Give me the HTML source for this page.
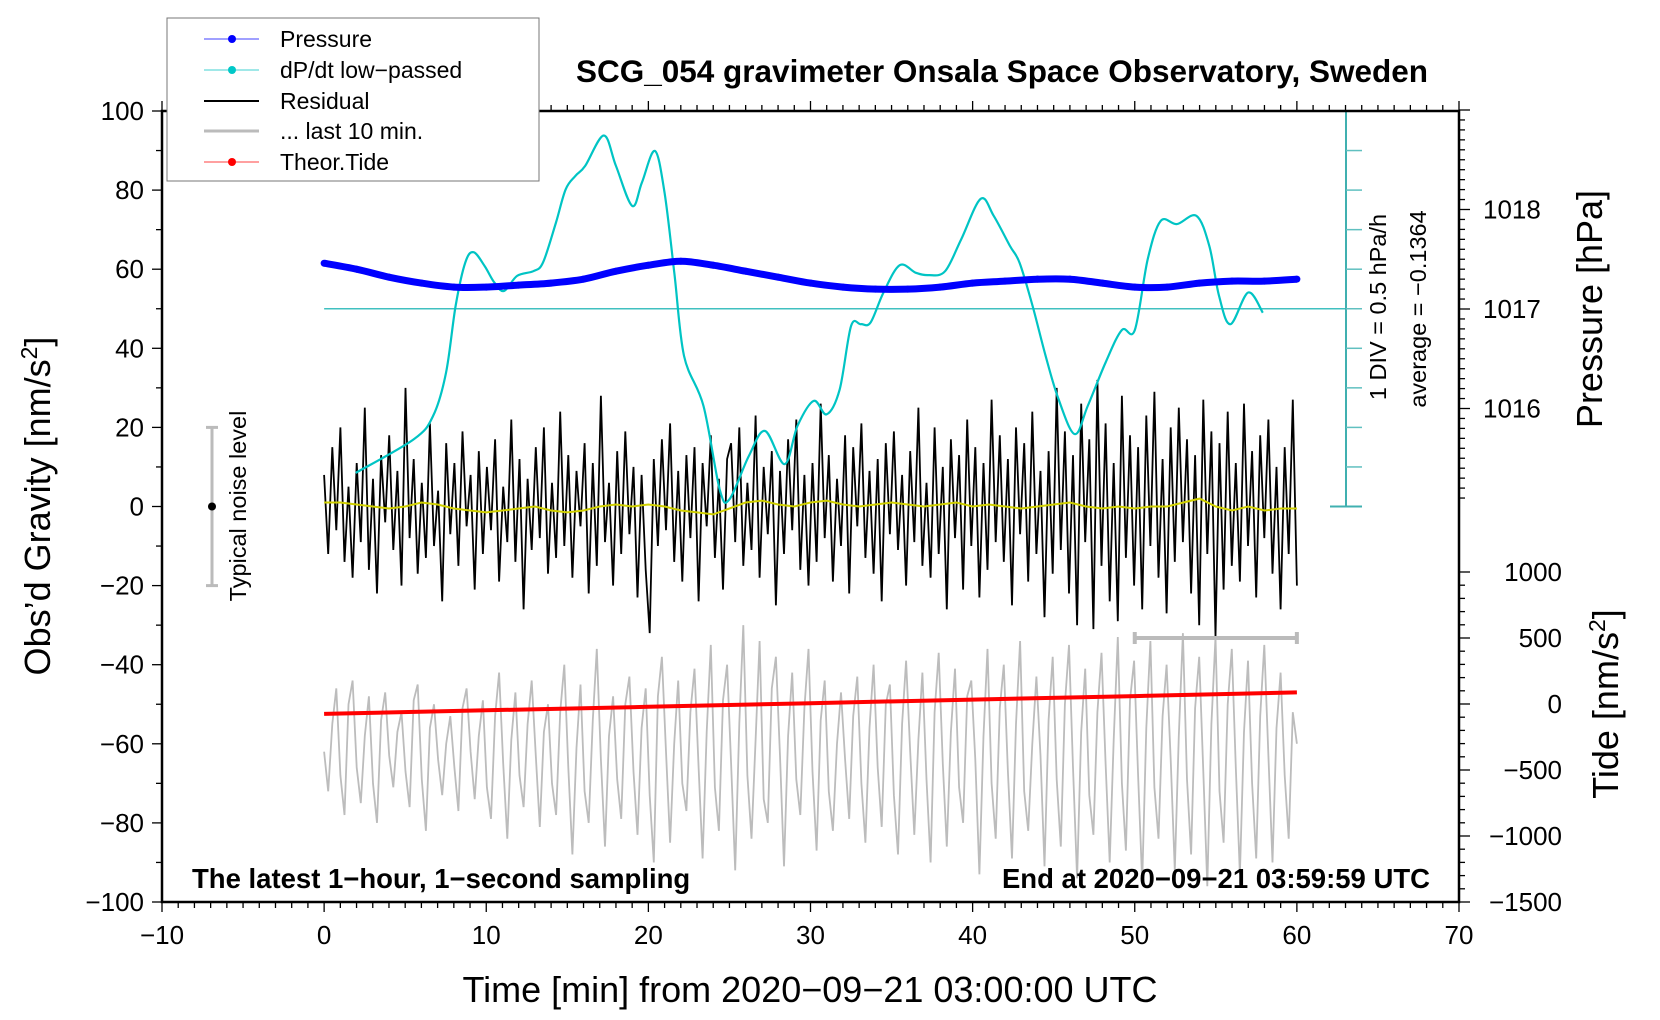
<!DOCTYPE html>
<html><head><meta charset="utf-8"><style>
html,body{margin:0;padding:0;background:#fff;}
svg{display:block;font-family:"Liberation Sans",Arial,sans-serif;}
</style></head><body>
<svg id="chart" width="1660" height="1020" viewBox="0 0 1660 1020" xmlns="http://www.w3.org/2000/svg">
<rect x="0" y="0" width="1660" height="1020" fill="#fff"/>
<g id="marks"></g>
<g id="axes"></g>
<text x="1002" y="82" text-anchor="middle" font-size="31.5" font-weight="bold">SCG_054 gravimeter Onsala Space Observatory, Sweden</text>
<text x="192" y="888" font-size="27.5" font-weight="bold">The latest 1−hour, 1−second sampling</text>
<text x="1430" y="888" text-anchor="end" font-size="27.5" font-weight="bold">End at 2020−09−21 03:59:59 UTC</text>
<text x="810" y="1002" text-anchor="middle" font-size="36">Time [min] from 2020−09−21 03:00:00 UTC</text>
<text transform="translate(50,506) rotate(-90)" text-anchor="middle" font-size="36">Obs’d Gravity [nm/s<tspan baseline-shift="super" font-size="23">2</tspan>]</text>
<text transform="translate(1602,309) rotate(-90)" text-anchor="middle" font-size="36">Pressure [hPa]</text>
<text transform="translate(1618,704) rotate(-90)" text-anchor="middle" font-size="36">Tide [nm/s<tspan baseline-shift="super" font-size="23">2</tspan>]</text>
<text transform="translate(1386,307) rotate(-90)" text-anchor="middle" font-size="23.5">1 DIV = 0.5 hPa/h</text>
<text transform="translate(1426,309) rotate(-90)" text-anchor="middle" font-size="23.5">average = −0.1364</text>
<text transform="translate(246,506) rotate(-90)" text-anchor="middle" font-size="23.5">Typical noise level</text>
<g>
<rect x="167" y="18" width="372" height="163" fill="#fff" stroke="#777" stroke-width="1"/>
<g><line x1="204" y1="39" x2="259" y2="39" stroke="#4040ff" stroke-width="1"/><circle cx="232" cy="39" r="4" fill="#0000ff"/><text x="280" y="47" font-size="23">Pressure</text></g>
<g><line x1="204" y1="70" x2="259" y2="70" stroke="#40d0d0" stroke-width="1"/><circle cx="232" cy="70" r="4" fill="#00c8c8"/><text x="280" y="78" font-size="23">dP/dt low−passed</text></g>
<g><line x1="204" y1="101" x2="259" y2="101" stroke="#000" stroke-width="2"/><text x="280" y="109" font-size="23">Residual</text></g>
<g><line x1="204" y1="131" x2="259" y2="131" stroke="#bbb" stroke-width="3"/><text x="280" y="139" font-size="23">... last 10 min.</text></g>
<g><line x1="204" y1="162" x2="259" y2="162" stroke="#ff4040" stroke-width="1"/><circle cx="232" cy="162" r="4" fill="#ff0000"/><text x="280" y="170" font-size="23">Theor.Tide</text></g>
</g>
</svg>
<script>
// ---- data ----
const pressureTimes = [0,2,4,6,8,10,12,14,16,18,20,22,24,26,28,30,32,34,36,38,40,42,44,46,48,50,52,54,56,58,60];
const pressureHpa = [1017.46,1017.40,1017.32,1017.26,1017.22,1017.22,1017.24,1017.26,1017.30,1017.38,1017.44,1017.48,1017.44,1017.38,1017.32,1017.26,1017.22,1017.20,1017.20,1017.22,1017.26,1017.28,1017.30,1017.30,1017.26,1017.22,1017.22,1017.26,1017.28,1017.28,1017.30];
const dpdtTimes = [1.95,5.53,6.72,7.52,8.11,8.71,9.22,9.9,10.5,11.1,11.9,12.9,13.5,14.3,14.9,15.5,16.1,17.25,18.0,19.0,19.6,20.4,21.0,21.6,22.2,23.4,24.4,25.0,26.2,27.2,28.4,29.2,30.2,31.0,31.8,32.5,33.1,33.7,34.5,35.5,36.5,37.3,38.3,39.3,40.5,41.3,42.3,42.9,43.7,44.5,45.3,46.3,47.1,48.2,49.2,50.0,50.8,51.6,52.6,53.8,54.6,55.2,55.9,57.0,57.9];
const dpdtAnomaly = [-2.075,-1.65,-1.355,-0.81,0.035,0.585,0.715,0.54,0.33,0.225,0.415,0.475,0.585,1.09,1.51,1.68,1.805,2.19,1.805,1.3,1.595,1.995,1.465,0.455,-0.595,-1.23,-2.285,-2.41,-1.86,-1.545,-1.965,-1.48,-1.165,-1.335,-1.02,-0.22,-0.195,-0.175,0.205,0.55,0.455,0.425,0.475,0.88,1.39,1.175,0.795,0.58,0.035,-0.595,-1.145,-1.585,-1.23,-0.68,-0.27,-0.27,0.625,1.11,1.07,1.175,0.795,0.16,-0.195,0.205,-0.05];
const residual = [8,-12,15,-6,20,-14,5,-18,11,-9,25,-16,7,-22,13,-4,18,-11,9,-20,
30,-8,12,-17,6,-13,21,-10,4,-24,16,-7,11,-15,19,-5,8,-21,14,-12,
10,-6,17,-19,5,-9,22,-14,12,-26,7,-11,15,-8,20,-17,6,-13,24,-10,
13,-18,9,-5,16,-22,11,-15,28,-9,6,-20,14,-12,19,-7,10,-23,8,-16,
-32,12,-10,17,-6,21,-14,9,-19,13,-8,15,-24,11,-5,18,-13,7,-21,12,
16,-9,20,-15,6,-11,23,-18,10,-7,14,-25,9,-12,17,-6,22,-16,8,-20,
11,-14,26,-8,13,-19,7,-10,18,-22,15,-5,21,-13,9,-17,12,-24,16,-7,
19,-11,8,-20,14,-9,25,-15,6,-18,20,-12,10,-26,17,-8,13,-21,22,-10,
15,-23,11,-16,27,-9,18,-14,12,-25,20,-7,16,-19,24,-12,9,-28,14,-17,
30,-11,19,-22,13,-30,26,-9,17,-31,32,-15,21,-24,11,-29,28,-13,18,-20,
15,-26,23,-10,29,-18,12,-27,20,-14,25,-9,17,-22,13,-30,27,-12,19,-33,
16,-21,24,-15,11,-19,26,-10,14,-23,18,-8,22,-17,10,-26,15,-12,27,-20];
const last10 = [-62,-72,-55,-46,-68,-78,-50,-44,-66,-75,-58,-48,-70,-80,-54,-47,-63,-71,-57,-52,
-67,-76,-49,-45,-69,-82,-56,-50,-64,-73,-60,-53,-66,-77,-51,-46,-62,-74,-58,-49,
-71,-79,-53,-42,-65,-84,-59,-47,-68,-76,-55,-44,-63,-81,-57,-50,-70,-78,-52,-40,
-66,-88,-61,-45,-72,-80,-54,-36,-64,-86,-58,-48,-69,-79,-50,-43,-67,-83,-56,-46,
-73,-90,-48,-38,-62,-85,-60,-44,-70,-77,-52,-41,-66,-89,-57,-35,-71,-82,-49,-40,
-65,-92,-55,-30,-68,-84,-59,-34,-74,-80,-46,-38,-63,-91,-58,-42,-69,-78,-51,-36,
-67,-87,-54,-44,-72,-82,-60,-47,-64,-79,-53,-43,-70,-85,-56,-40,-66,-81,-50,-45,
-73,-88,-55,-39,-62,-83,-59,-42,-69,-90,-52,-37,-65,-86,-57,-41,-71,-80,-48,-44,
-64,-93,-58,-36,-70,-84,-51,-40,-67,-89,-55,-34,-72,-82,-60,-43,-63,-91,-54,-38,
-69,-86,-50,-35,-66,-94,-57,-41,-73,-83,-52,-37,-65,-90,-59,-33,-70,-87,-49,-39,
-68,-95,-56,-34,-71,-84,-53,-40,-64,-92,-58,-32,-69,-88,-51,-38,-67,-96,-55,-33,
-72,-85,-50,-36,-66,-93,-57,-39,-70,-89,-53,-35,-63,-90,-56,-42,-68,-84,-52,-60];
const smoothed = [1,1,0.5,0,-0.5,0,1,0.5,-0.5,-1,-1.5,-1,-0.5,0,-1,-1.5,-1,0,0.5,0,0.5,0,-1,-1.5,-2,-0.5,1,1.5,0.5,0,1,1.5,0.5,0,0.5,1,0.5,0,0.5,1,0,0.5,0,-0.5,0,0.5,1,0,-0.5,0,-0.5,0,0,1,2,0,-1,0,-1,-0.5,-0.5];
const tideTimes = [0,10,20,30,40,50,60];
const tideValues = [-75,-48,-21,6,33,60,88];
const xTicks = [-10,0,10,20,30,40,50,60,70];
const yTicks = [-100,-80,-60,-40,-20,0,20,40,60,80,100];
const pressureTicks = [1016,1017,1018];
const tideTicks = [-1500,-1000,-500,0,500,1000];
const dpdtAverage = -0.1364;

// ---- axis functions ----
const X0=162, X1=1459, YT=111, YB=902;
const xS = t => X0 + (t+10)/80*(X1-X0);
const yS = v => YB - (v+100)/200*(YB-YT);
const pS = p => 309 - (p-1017)*99.5;
const tS = n => 704 - n*0.132;
const dS = d => yS(50 + d/0.5*10);
const NS='http://www.w3.org/2000/svg';
const marks=document.getElementById('marks'), axes=document.getElementById('axes');
function mk(tag, attrs, parent){const e=document.createElementNS(NS,tag);for(const k in attrs)e.setAttribute(k,attrs[k]);parent.appendChild(e);return e;}
function pts(xs, ys){return xs.map((x,i)=>x.toFixed(1)+','+ys[i].toFixed(1)).join(' ');}
function smoothPath(xs, ys){
  let d='M'+xs[0].toFixed(1)+','+ys[0].toFixed(1);
  for(let i=0;i<xs.length-1;i++){
    const x0=xs[Math.max(i-1,0)], y0=ys[Math.max(i-1,0)];
    const x1=xs[i], y1=ys[i], x2=xs[i+1], y2=ys[i+1];
    const x3=xs[Math.min(i+2,xs.length-1)], y3=ys[Math.min(i+2,xs.length-1)];
    const c1x=x1+(x2-x0)/6, c1y=y1+(y2-y0)/6, c2x=x2-(x3-x1)/6, c2y=y2-(y3-y1)/6;
    d+=' C'+c1x.toFixed(1)+','+c1y.toFixed(1)+' '+c2x.toFixed(1)+','+c2y.toFixed(1)+' '+x2.toFixed(1)+','+y2.toFixed(1);
  }
  return d;
}

// gray last-10
const grayT = last10.map((v,i)=>i*60/(last10.length-1));
let el=mk('polyline',{points:pts(grayT.map(xS),last10.map(yS)),fill:'none',stroke:'#bcbcbc','stroke-width':1.8},marks);


// residual
const resT = residual.map((v,i)=>i*60/(residual.length-1));
el=mk('polyline',{points:pts(resT.map(xS),residual.map(yS)),fill:'none',stroke:'#000','stroke-width':1.8},marks);


// smoothed
const smT = smoothed.map((v,i)=>i*60/(smoothed.length-1));
el=mk('polyline',{points:pts(smT.map(xS),smoothed.map(yS)),fill:'none',stroke:'#d0d000','stroke-width':2},marks);


// dpdt baseline
el=mk('line',{x1:xS(0),x2:1362,y1:dS(0),y2:dS(0),stroke:'#40c0c0','stroke-width':1.5},marks);


// dpdt curve
el=mk('path',{d:smoothPath(dpdtTimes.map(xS),dpdtAnomaly.map(dS)),fill:'none',stroke:'#00c4c4','stroke-width':2.2},marks);


// pressure
el=mk('path',{d:smoothPath(pressureTimes.map(xS),pressureHpa.map(pS)),fill:'none',stroke:'#0000ff','stroke-width':7},marks);


pressureTimes.forEach((t,i)=>{
  const c=mk('circle',{cx:xS(t),cy:pS(pressureHpa[i]),r:3.5,fill:'#0000ff'},marks);
  
  
});
// tide
el=mk('polyline',{points:pts(tideTimes.map(xS),tideValues.map(tS)),fill:'none',stroke:'#ff0000','stroke-width':4},marks);


// noise level bar
const nb=mk('g',{},marks);


mk('line',{x1:212,x2:212,y1:yS(20),y2:yS(-20),stroke:'#bbb','stroke-width':3},nb);
mk('line',{x1:206,x2:218,y1:yS(20),y2:yS(20),stroke:'#bbb','stroke-width':3},nb);
mk('line',{x1:206,x2:218,y1:yS(-20),y2:yS(-20),stroke:'#bbb','stroke-width':3},nb);
mk('circle',{cx:212,cy:yS(0),r:4,fill:'#000'},nb);
// last 10 min range bar
const rb=mk('g',{},marks);


mk('line',{x1:xS(50),x2:xS(60),y1:638,y2:638,stroke:'#bbb','stroke-width':4},rb);
mk('line',{x1:xS(50),x2:xS(50),y1:632,y2:644,stroke:'#bbb','stroke-width':4},rb);
mk('line',{x1:xS(60),x2:xS(60),y1:632,y2:644,stroke:'#bbb','stroke-width':4},rb);
// dpdt scale bar
const sb=mk('g',{},marks);


mk('line',{x1:1346,x2:1346,y1:yS(100),y2:yS(0),stroke:'#40b0b0','stroke-width':2},sb);
mk('line',{x1:1330,x2:1362,y1:yS(100),y2:yS(100),stroke:'#40b0b0','stroke-width':2},sb);
mk('line',{x1:1330,x2:1362,y1:yS(0),y2:yS(0),stroke:'#40b0b0','stroke-width':2},sb);
for(let v=10;v<100;v+=10) mk('line',{x1:1346,x2:1362,y1:yS(v),y2:yS(v),stroke:'#60c0c0','stroke-width':1.5},sb);

// ---- axes ----
mk('rect',{x:X0,y:YT,width:X1-X0,height:YB-YT,fill:'none',stroke:'#000','stroke-width':2.5},axes);
for(let t=-10;t<=70;t++){
  const maj=t%10===0;
  mk('line',{x1:xS(t),x2:xS(t),y1:YB,y2:YB+(maj?10:6),stroke:'#000','stroke-width':1.3},axes);
  mk('line',{x1:xS(t),x2:xS(t),y1:YT,y2:YT-(maj?10:6),stroke:'#000','stroke-width':1.3},axes);
}
xTicks.forEach(t=>{
  const e=mk('text',{x:xS(t),y:YB+42,'text-anchor':'middle','font-size':26},axes);
  e.textContent=String(t).replace('-','−');
  
  
});
for(let v=-100;v<=100;v+=10){
  mk('line',{x1:X0,x2:X0-(v%20===0?10:6),y1:yS(v),y2:yS(v),stroke:'#000','stroke-width':1.3},axes);
}
yTicks.forEach(v=>{
  const e=mk('text',{x:X0-18,y:yS(v)+9,'text-anchor':'end','font-size':26},axes);
  e.textContent=String(v).replace('-','−');
  
  
});
for(let k=0;k<=40;k++){
  const p=1015.0+k*0.1; const y=pS(p);
  if(y<YT-1||y>500) continue;
  const maj=Math.abs(p-Math.round(p))<0.01;
  mk('line',{x1:X1,x2:X1+(maj?11:6),y1:y,y2:y,stroke:'#000','stroke-width':1.3},axes);
}
pressureTicks.forEach(p=>{
  const e=mk('text',{x:1483,y:pS(p)+9,'font-size':26},axes);
  e.textContent=String(p);
  
  
});
for(let n=-1500;n<=1000;n+=100){
  mk('line',{x1:X1,x2:X1+(n%500===0?11:6),y1:tS(n),y2:tS(n),stroke:'#000','stroke-width':1.3},axes);
}
tideTicks.forEach(n=>{
  const e=mk('text',{x:1562,y:tS(n)+9,'text-anchor':'end','font-size':26},axes);
  e.textContent=String(n).replace('-','−');
  
  
});
</script>
</body></html>
